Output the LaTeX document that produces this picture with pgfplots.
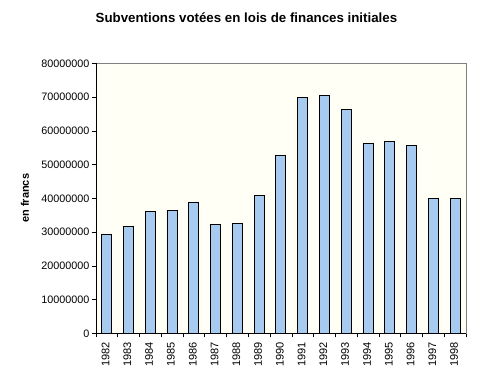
\documentclass[border=0pt]{standalone}
\usepackage{pgfplots}
\pgfplotsset{compat=1.18}
\usepackage{fontspec}
\setmainfont{Liberation Sans}
\definecolor{barfill}{HTML}{A6CAF0}
\definecolor{plotbg}{HTML}{FFFFF5}
\begin{document}
\begin{tikzpicture}[x=1pt,y=1pt]
\path[use as bounding box] (0,0) rectangle (493,382);
\begin{axis}[
  at={(95.7pt,48.7pt)}, anchor=south west,
  scale only axis, width=370.3pt, height=270pt,
  xmin=-0.5, xmax=16.5, ymin=0, ymax=80000000,
  ytick={0,10000000,...,80000000},
  scaled y ticks=false,
  /pgf/number format/fixed, /pgf/number format/1000 sep={},
  /pgf/number format/assume math mode=true,
  yticklabel style={font=\fontsize{10.8}{12}\selectfont, inner sep=2pt},
  xtick={0,...,16},
  xticklabels={1982,1983,1984,1985,1986,1987,1988,1989,1990,1991,1992,1993,1994,1995,1996,1997,1998},
  xticklabel style={rotate=90, anchor=east, font=\fontsize{11}{12}\selectfont, inner sep=0pt, xshift=-4.5pt, yshift=1pt},
  major x tick style={draw=none},
  minor xtick={-0.5,0.5,...,16.5},
  minor x tick style={black},
  tick align=outside,
  tick style={black, thin},
  major tick length=4pt, minor tick length=4pt,
  xtick pos=bottom, ytick pos=left,
  axis line style={draw=gray},
  axis background/.style={fill=plotbg},
  ylabel={en francs},
  every axis y label/.style={at={(axis description cs:-0.191,0.5)}, rotate=90, anchor=center, font=\bfseries\fontsize{11}{12}\selectfont},
  title={Subventions votées en lois de finances initiales},
  title style={at={(axis description cs:0.407,1.128)}, anchor=base, font=\bfseries\fontsize{13.3}{15}\selectfont},
]
\addplot[ybar, bar width=10pt, fill=barfill, draw=black, line width=0.8pt] coordinates {
(0,29300000) (1,31700000) (2,36100000) (3,36400000) (4,38800000)
(5,32300000) (6,32600000) (7,40900000) (8,52700000) (9,69900000)
(10,70500000) (11,66400000) (12,56300000) (13,56900000) (14,55700000)
(15,40000000) (16,40000000)
};
\draw[black, thin] (rel axis cs:0,1) -- (rel axis cs:0,0) -- (rel axis cs:1,0);
\end{axis}
\end{tikzpicture}
\end{document}
